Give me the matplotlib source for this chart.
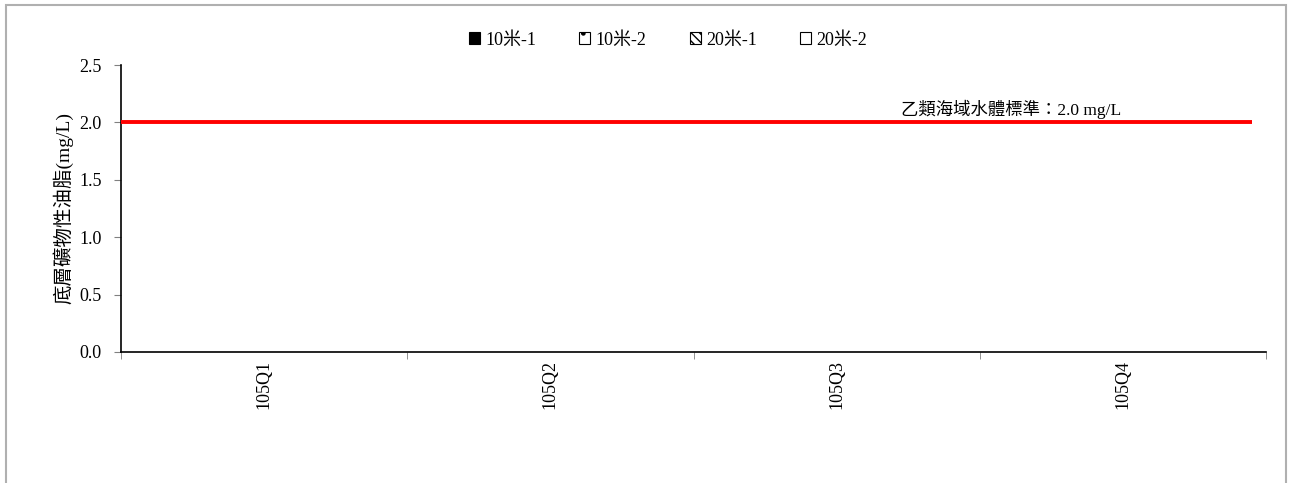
import matplotlib
matplotlib.use("Agg")
import matplotlib.pyplot as plt
from matplotlib.patches import Rectangle
import numpy as np

plt.rcParams['font.family'] = ['Liberation Serif', 'Noto Sans CJK TC']

categories = ['105Q1', '105Q2', '105Q3', '105Q4']
series_names = ['10米-1', '10米-2', '20米-1', '20米-2']
series_values = {
    '10米-1': [0, 0, 0, 0],
    '10米-2': [0, 0, 0, 0],
    '20米-1': [0, 0, 0, 0],
    '20米-2': [0, 0, 0, 0],
}
standard_value = 2.0
standard_label = '乙類海域水體標準：2.0 mg/L'
y_label = '底層礦物性油脂(mg/L)'
y_ticks = [0.0, 0.5, 1.0, 1.5, 2.0, 2.5]

styles = {
    '10米-1': dict(facecolor='black', hatch=None),
    '10米-2': dict(facecolor='white', hatch='.'),
    '20米-1': dict(facecolor='white', hatch='\\\\\\\\'),
    '20米-2': dict(facecolor='white', hatch=None),
}

fig = plt.figure(figsize=(12.89, 4.83), dpi=100)
ax = fig.add_axes([121/1289, 1-352/483, (1266-121)/1289, (352-65)/483])

x = np.arange(len(categories))
w = 0.15
for i, name in enumerate(series_names):
    st = styles[name]
    ax.bar(x + (i - 1.5) * w, series_values[name], width=w,
           facecolor=st['facecolor'], edgecolor='black', hatch=st['hatch'],
           linewidth=0.8, label=name)

ax.plot([-0.5, 3.45], [standard_value, standard_value], color='#ff0000',
        linewidth=2.8, solid_capstyle='butt', zorder=5)
ax.text(2.225, standard_value + 0.03, standard_label, fontsize=12.5,
        ha='left', va='bottom')

ax.set_xlim(-0.5, 3.5)
ax.set_ylim(0, 2.5)
ax.set_yticks(y_ticks)
ax.set_yticklabels([f'{v:.1f}' for v in y_ticks], fontsize=13)
ax.set_xticks(x)
ax.set_xticklabels(categories, rotation=90, fontsize=13)
ax.tick_params(axis='x', length=0, pad=6)
ax.set_xticks(np.arange(-0.5, 4, 1), minor=True)
ax.tick_params(axis='x', which='minor', length=5, color='#808080', direction='out')
ax.tick_params(axis='y', length=5, color='#808080', direction='out', pad=9)
for s in ['top', 'right']:
    ax.spines[s].set_visible(False)
for s in ['left', 'bottom']:
    ax.spines[s].set_linewidth(1.2)
ax.set_ylabel(y_label, fontsize=14, labelpad=4)

leg = fig.legend(loc='center', bbox_to_anchor=(668/1289, 1-40/483), ncol=4,
                 frameon=False, fontsize=13, handlelength=0.6, handleheight=0.6,
                 handletextpad=0.3, columnspacing=2.4)

fig.patches.append(Rectangle((6/1289, -0.05), (1286-6)/1289, 1.05-5/483,
                             transform=fig.transFigure, fill=False,
                             edgecolor='#b0b0b0', linewidth=1.5))

fig.savefig('out.png', dpi=100)
